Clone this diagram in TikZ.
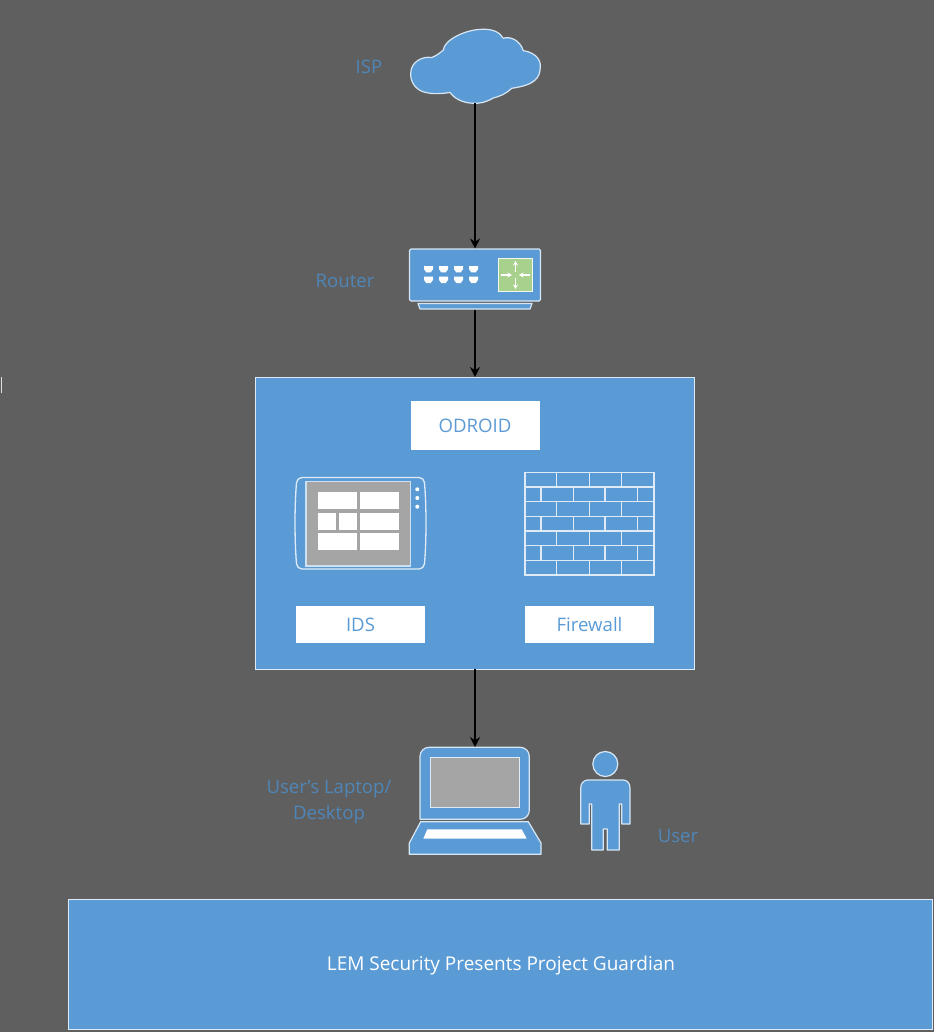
\documentclass[tikz,border=0pt]{standalone}
\usepackage{fontspec}
\setmainfont{Open Sans}
\usepackage{tikz}
\usetikzlibrary{arrows.meta,positioning,calc}
\definecolor{bggray}{HTML}{5F5F5F}
\definecolor{netblue}{HTML}{5B9BD5}
\definecolor{dimblue}{HTML}{4F86B8}
\definecolor{screengray}{HTML}{A5A5A5}
\definecolor{routergreen}{HTML}{A9D18E}
\begin{document}
\begin{tikzpicture}[
  x=1pt, y=-1pt,
  icon/.style={fill=netblue, draw=white!75!netblue, line width=1.2pt, line join=round},
  hollow/.style={draw=white!80!netblue, line width=1.3pt},
  slot/.style={fill=white, text=netblue, font=\fontsize{18.6}{22}\selectfont, minimum height=37pt, minimum width=129pt, inner sep=0pt},
  panel/.style={fill=netblue, draw=white!80!netblue, line width=1pt, inner sep=0pt, outer sep=0pt},
  frame/.style={minimum width=#1, inner sep=0pt, outer sep=0pt},
  tag/.style={text=dimblue, font=\fontsize{18.6}{26}\selectfont, align=center, inner sep=0pt},
  tile/.style={fill=white, draw=none},
  arr/.style={-{Stealth[length=10pt,width=10pt]}, black, line width=1.4pt}
]
  \useasboundingbox[fill=bggray] (0,0) rectangle (934,1032);
  \draw[white!80!bggray, line width=0.8pt] (1.5,377) -- (1.5,393);

  \node[frame=131pt, minimum height=75pt] (cloud) at (475,66) {};
  \draw[icon] (410.7,73) .. controls (411,62) and (422,56) .. (431.7,57.5)
    .. controls (436,56) and (440,53) .. (443.3,50)
    .. controls (444,40) and (466,29) .. (483.3,29.3)
    .. controls (492,29) and (500,32) .. (503.3,38.3)
    .. controls (510,36) and (520,40) .. (523.3,50.7)
    .. controls (533,52) and (541,58) .. (540.3,67)
    .. controls (540,78) and (535,85) .. (511.7,88.3)
    .. controls (506,94) and (498,97) .. (493.3,98)
    .. controls (485,103) and (478,103.5) .. (473.3,103.3)
    .. controls (462,103) and (454,98) .. (450,92.5)
    .. controls (440,94) and (432,94) .. (426.7,92.7)
    .. controls (416,91) and (410,82) .. (410.7,73) -- cycle;
  \node[tag] (isp) at (369,67) {ISP};

  \node[frame=131pt, minimum height=61pt] (router) at (475,279) {};
  \draw[icon, rounded corners=1.5pt] (409.5,249) rectangle (540.5,301);
  \draw[icon] (418,303.5) -- (532,303.5) -- (530,309) -- (420,309) -- cycle;
  \draw[fill=routergreen, draw=white!85!routergreen, line width=1pt] (498.5,258.5) rectangle (532.5,291.5);
  \foreach \px in {424,439,454,469} \foreach \py in {266,276.7} {
    \fill[white] (\px,\py) -- ++(9,0) -- ++(0,3.2) -- ++(-2.3,3.2) -- ++(-4.4,0) -- ++(-2.3,-3.2) -- cycle;
  }
  \foreach \ax/\ay/\bx/\by in {515.5/272/515.5/261, 515.5/278/515.5/289, 501/275/512/275, 530/275/519/275} {
    \draw[white, line width=1.2pt, -{Stealth[length=4.5pt,width=5pt]}] (\ax,\ay) -- (\bx,\by);
  }
  \node[tag] (routertag) at (345,281) {Router};

  \node[panel, minimum width=439pt, minimum height=292pt] (odroid) at (475,523) {};
  \node[slot, minimum height=49pt, below=24pt of odroid.north] (odroidtag) {ODROID};

  \draw[hollow, rounded corners=5pt] (297,477.5) .. controls (294.5,505) and (294.5,541) .. (297,569)
    -- (424,569) .. controls (426.5,541) and (426.5,505) .. (424,477.5) -- cycle;
  \draw[fill=screengray, draw=white!70!netblue, line width=1.2pt] (306,481.7) rectangle (410.7,566);
  \foreach \tx/\ty/\tw/\th in {318.3/492.3/38.4/17, 360/492.3/39/17, 318.3/512.7/17.4/17.3, 339/512.7/17.7/17.3,
    360/512.7/39/17.3, 318.3/533.3/38.4/16.7, 360/533.3/39/16.7} {
    \fill[tile] (\tx,\ty) rectangle ++(\tw,\th);
  }
  \foreach \dy in {489.3,498,506.7} {
    \fill[white] (417.3,\dy) circle (2pt);
  }

  \draw[hollow] (525,472.3) rectangle (654,575);
  \foreach \row in {1,...,6} {
    \draw[hollow] (525,472.3+14.67*\row) -- (654,472.3+14.67*\row);
  }
  \foreach \row in {0,2,4,6} \foreach \bx in {556.7,589.3,621.3} {
    \draw[hollow] (\bx,472.3+14.67*\row) -- ++(0,14.67);
  }
  \foreach \row in {1,3,5} \foreach \bx in {541,573.3,605,637.3} {
    \draw[hollow] (\bx,472.3+14.67*\row) -- ++(0,14.67);
  }

  \node[slot] (ids) at (360.5,624.5) {IDS};
  \node[slot] (firewall) at (589.5,624.5) {Firewall};

  \node[frame=132pt, minimum height=108pt] (laptop) at (475,801) {};
  \draw[icon, rounded corners=9pt] (420,819.3) -- (420,747.3) -- (529.3,747.3) -- (529.3,819.3) [sharp corners] -- cycle;
  \draw[fill=screengray, draw=white!80!netblue, line width=1.2pt] (430.7,757.3) rectangle (519.3,807.7);
  \draw[icon] (420.7,821.7) -- (528.3,821.7) -- (541,843) -- (541,854.3) -- (409.3,854.3) -- (409.3,843) -- cycle;
  \fill[white] (427.3,829.3) -- (521.7,829.3) -- (526.7,838.7) -- (423.3,838.7) -- cycle;
  \node[tag] (laptoptag) at (329,802.5) {User's Laptop/\\Desktop};

  \draw[icon] (605.3,764) circle (12.5pt);
  \draw[icon] (580.7,788) .. controls (580.7,783) and (584,780) .. (588,780) -- (623,780)
    .. controls (627,780) and (630,783) .. (630,788) -- (630,824) -- (621.7,824) -- (621.7,804)
    -- (619.3,804) -- (619.3,850) -- (607.3,850) -- (607.3,829) -- (603.3,829) -- (603.3,850)
    -- (591.7,850) -- (591.7,804) -- (589.3,804) -- (589.3,824) -- (580.7,824) -- cycle;
  \node[tag] (usertag) at (678,836) {User};

  \node[panel, minimum width=864pt, minimum height=130pt] (banner) at (500,964) {};
  \node[text=white, font=\fontsize{19}{22}\selectfont, inner sep=0pt] (bannertag) at (501,965.5) {LEM Security Presents Project Guardian};

  \draw[arr] (cloud) -- (router);
  \draw[arr] (router) -- (odroid);
  \draw[arr] (odroid) -- (laptop);
\end{tikzpicture}
\end{document}
